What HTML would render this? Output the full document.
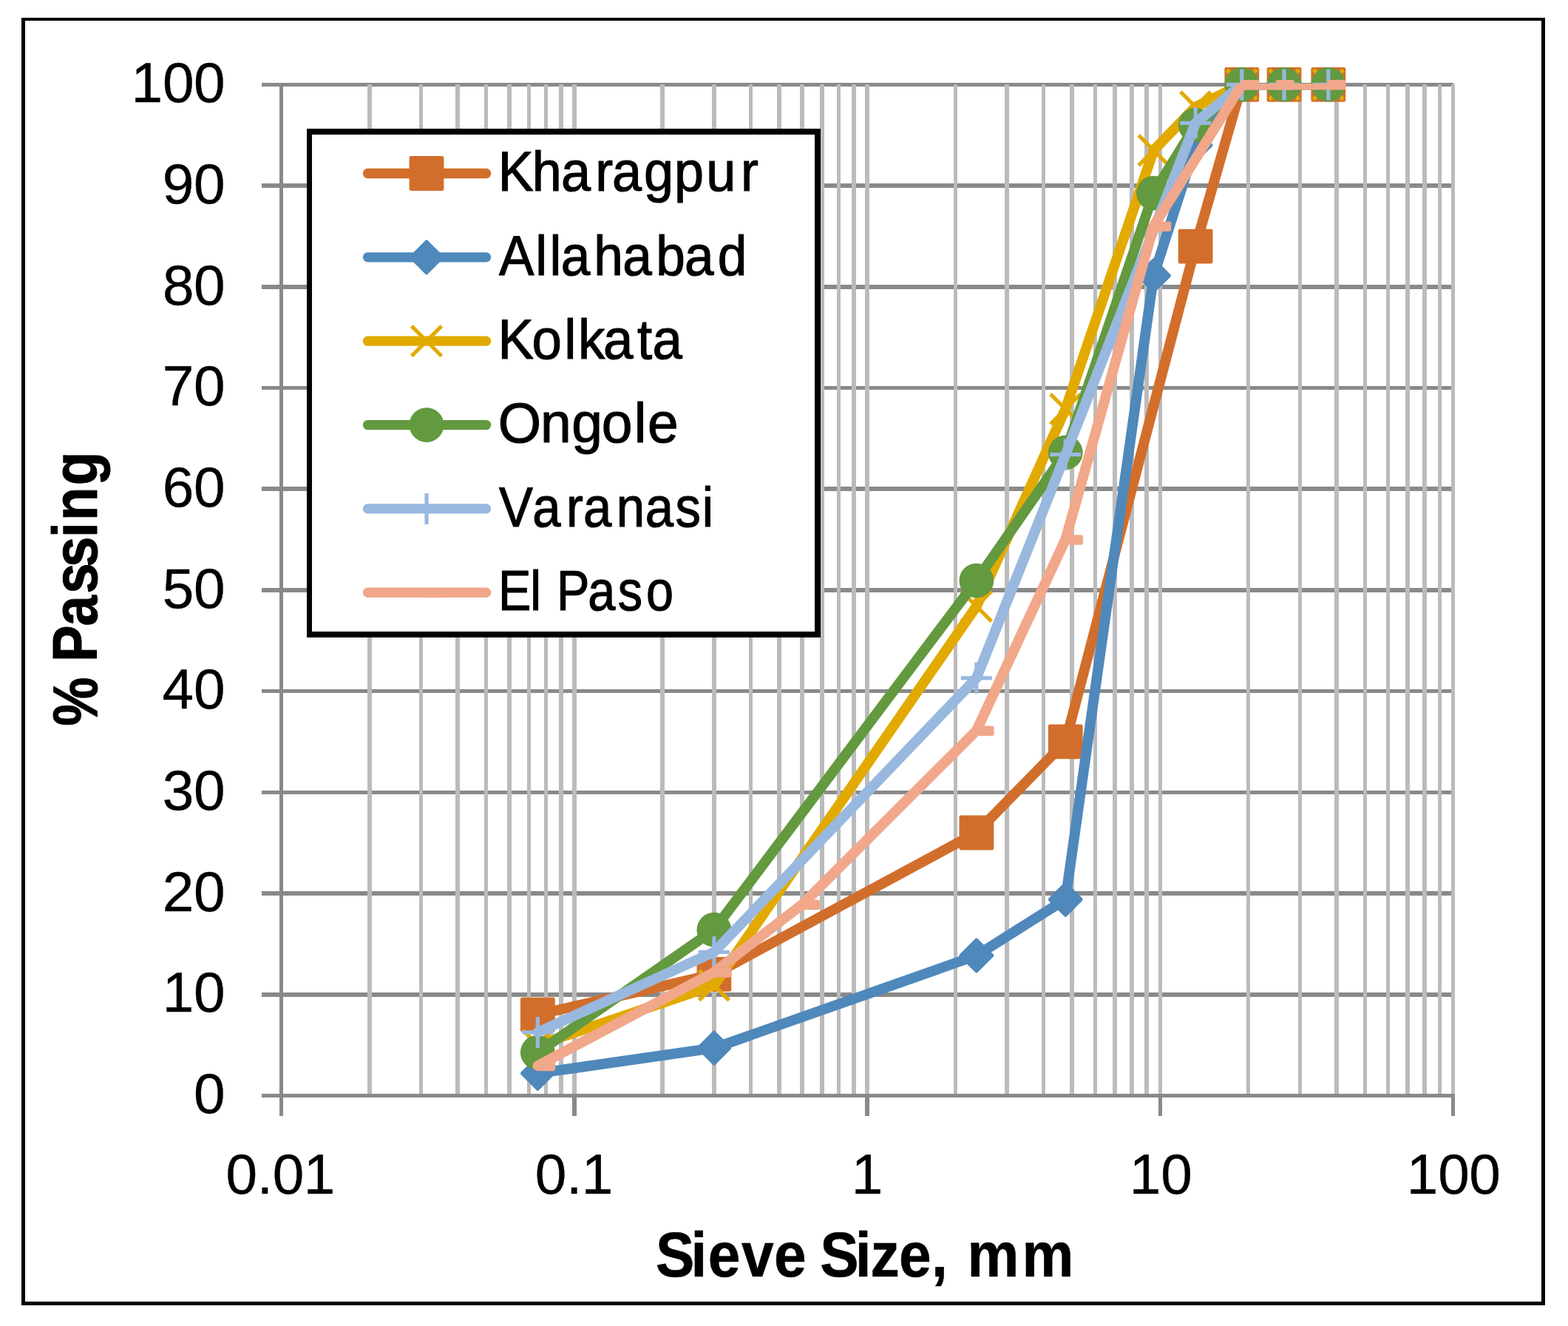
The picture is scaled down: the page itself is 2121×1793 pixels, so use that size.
<!DOCTYPE html>
<html lang="en"><head><meta charset="utf-8"><title>Sieve analysis - % Passing vs Sieve Size</title>
<style>
html,body{margin:0;padding:0;background:#fff;}
svg{display:block;}
text{font-family:"Liberation Sans",sans-serif;fill:#000;}
.t{font-size:76.5px;}
.b{font-size:84.5px;font-weight:bold;}
</style></head><body>
<svg width="2121" height="1793" viewBox="0 0 2121 1793" role="img" aria-label="Sieve analysis chart">
<rect x="0" y="0" width="2121" height="1793" fill="#fff"/>
<g fill="#000" shape-rendering="crispEdges">
<rect x="29" y="24" width="2061" height="4"/>
<rect x="29" y="1760" width="2061" height="5"/>
<rect x="29" y="24" width="5" height="1741"/>
<rect x="2085" y="24" width="5" height="1741"/>
</g>
<g fill="#898989" shape-rendering="crispEdges">
<rect x="354" y="1342" width="1612" height="6"/>
<rect x="354" y="1205" width="1612" height="6"/>
<rect x="354" y="1069" width="1612" height="5"/>
<rect x="354" y="932" width="1612" height="5"/>
<rect x="354" y="795" width="1612" height="6"/>
<rect x="354" y="658" width="1612" height="6"/>
<rect x="354" y="522" width="1612" height="5"/>
<rect x="354" y="385" width="1612" height="6"/>
<rect x="354" y="248" width="1612" height="6"/>
<rect x="354" y="112" width="1612" height="5"/>
</g>
<g fill="#BBBBBB" shape-rendering="crispEdges">
<rect x="497" y="114" width="6" height="1367"/>
<rect x="567" y="114" width="5" height="1367"/>
<rect x="616" y="114" width="6" height="1367"/>
<rect x="655" y="114" width="5" height="1367"/>
<rect x="686" y="114" width="6" height="1367"/>
<rect x="713" y="114" width="5" height="1367"/>
<rect x="736" y="114" width="5" height="1367"/>
<rect x="756" y="114" width="6" height="1367"/>
<rect x="774" y="114" width="6" height="1367"/>
<rect x="893" y="114" width="6" height="1367"/>
<rect x="963" y="114" width="6" height="1367"/>
<rect x="1013" y="114" width="5" height="1367"/>
<rect x="1051" y="114" width="6" height="1367"/>
<rect x="1082" y="114" width="6" height="1367"/>
<rect x="1109" y="114" width="6" height="1367"/>
<rect x="1132" y="114" width="5" height="1367"/>
<rect x="1152" y="114" width="6" height="1367"/>
<rect x="1170" y="114" width="6" height="1367"/>
<rect x="1290" y="114" width="5" height="1367"/>
<rect x="1359" y="114" width="6" height="1367"/>
<rect x="1409" y="114" width="5" height="1367"/>
<rect x="1447" y="114" width="6" height="1367"/>
<rect x="1479" y="114" width="5" height="1367"/>
<rect x="1505" y="114" width="6" height="1367"/>
<rect x="1528" y="114" width="6" height="1367"/>
<rect x="1548" y="114" width="6" height="1367"/>
<rect x="1567" y="114" width="5" height="1367"/>
<rect x="1686" y="114" width="5" height="1367"/>
<rect x="1756" y="114" width="5" height="1367"/>
<rect x="1805" y="114" width="6" height="1367"/>
<rect x="1844" y="114" width="5" height="1367"/>
<rect x="1875" y="114" width="5" height="1367"/>
<rect x="1901" y="114" width="6" height="1367"/>
<rect x="1924" y="114" width="6" height="1367"/>
<rect x="1945" y="114" width="5" height="1367"/>
<rect x="1963" y="114" width="5" height="1367"/>
</g>
<g fill="#898989" shape-rendering="crispEdges">
<rect x="354" y="1479" width="1614" height="5"/>
<rect x="378" y="112" width="5" height="1397"/>
<rect x="774" y="1479" width="6" height="30"/>
<rect x="1170" y="1479" width="6" height="30"/>
<rect x="1567" y="1479" width="5" height="30"/>
<rect x="1963" y="1479" width="5" height="30"/>
</g>
<text class="t" transform="translate(0 138.1) scale(1.000 1)" x="177.5 219.88 262.12" y="0" stroke="#000" stroke-width="0.4" stroke-linejoin="round">100</text>
<text class="t" transform="translate(0 274.8) scale(1.000 1)" x="219.7 262.12" y="0" stroke="#000" stroke-width="0.4" stroke-linejoin="round">90</text>
<text class="t" transform="translate(0 411.5) scale(1.000 1)" x="219.88 262.12" y="0" stroke="#000" stroke-width="0.4" stroke-linejoin="round">80</text>
<text class="t" transform="translate(0 548.2) scale(1.000 1)" x="219.84 262.12" y="0" stroke="#000" stroke-width="0.4" stroke-linejoin="round">70</text>
<text class="t" transform="translate(0 684.9) scale(1.000 1)" x="219.82 262.12" y="0" stroke="#000" stroke-width="0.4" stroke-linejoin="round">60</text>
<text class="t" transform="translate(0 821.6) scale(1.000 1)" x="219.82 262.12" y="0" stroke="#000" stroke-width="0.4" stroke-linejoin="round">50</text>
<text class="t" transform="translate(0 958.3) scale(1.000 1)" x="219.62 262.12" y="0" stroke="#000" stroke-width="0.4" stroke-linejoin="round">40</text>
<text class="t" transform="translate(0 1095) scale(1.000 1)" x="219.76 262.12" y="0" stroke="#000" stroke-width="0.4" stroke-linejoin="round">30</text>
<text class="t" transform="translate(0 1231.7) scale(1.000 1)" x="219.83 262.12" y="0" stroke="#000" stroke-width="0.4" stroke-linejoin="round">20</text>
<text class="t" transform="translate(0 1368.4) scale(1.000 1)" x="219.74 262.12" y="0" stroke="#000" stroke-width="0.4" stroke-linejoin="round">10</text>
<text class="t" transform="translate(0 1505.1) scale(1.000 1)" x="262.12" y="0" stroke="#000" stroke-width="0.4" stroke-linejoin="round">0</text>
<text class="t" transform="translate(0 1613.8) scale(1.000 1)" x="305.38 347.65 368.66 410.74" y="0" stroke="#000" stroke-width="0.4" stroke-linejoin="round">0.01</text>
<text class="t" transform="translate(0 1613.8) scale(1.000 1)" x="723.7 765.97 786.83" y="0" stroke="#000" stroke-width="0.4" stroke-linejoin="round">0.1</text>
<text class="t" transform="translate(0 1613.8) scale(1.000 1)" x="1151.69" y="0" stroke="#000" stroke-width="0.4" stroke-linejoin="round">1</text>
<text class="t" transform="translate(0 1613.8) scale(1.000 1)" x="1527.87 1570.26" y="0" stroke="#000" stroke-width="0.4" stroke-linejoin="round">10</text>
<text class="t" transform="translate(0 1613.8) scale(1.000 1)" x="1902.75 1945.14 1987.37" y="0" stroke="#000" stroke-width="0.4" stroke-linejoin="round">100</text>
<text class="b" transform="translate(0 1726) scale(0.930 1)" x="953.83 1004.91 1029.9 1078.57 1125.7 1172.7 1192.64 1243.73 1266.22 1307.53 1354.97 1378.46 1406.94 1486.51" y="0" stroke="#000" stroke-width="0.6" stroke-linejoin="round">Sieve Size, mm</text>
<text class="b" transform="translate(131 1000) rotate(-90) scale(0.880 1)" x="20.63 95.77 119.21 174.53 224.24 264.75 310.23 336.39 390.76" y="0" stroke="#000" stroke-width="1" stroke-linejoin="round">% Passing</text>
<defs><clipPath id="pc"><rect x="340" y="113" width="1700" height="1400"/></clipPath></defs>
<g>
<path clip-path="url(#pc)" d="M727.34 1372.04L965.91 1317.36L1320.87 1125.98L1441.24 1002.95L1617.13 333.12L1679.81 114.4L1737.06 114.4L1796.81 114.4" fill="none" stroke="#D26E2B" stroke-width="13.9" stroke-linejoin="round" stroke-linecap="round"/>
<rect x="706.34" y="1351.04" width="42" height="42" fill="#D26E2B" stroke="#D26E2B" stroke-width="4.8" stroke-linejoin="round"/>
<rect x="944.91" y="1296.36" width="42" height="42" fill="#D26E2B" stroke="#D26E2B" stroke-width="4.8" stroke-linejoin="round"/>
<rect x="1299.87" y="1104.98" width="42" height="42" fill="#D26E2B" stroke="#D26E2B" stroke-width="4.8" stroke-linejoin="round"/>
<rect x="1420.24" y="981.95" width="42" height="42" fill="#D26E2B" stroke="#D26E2B" stroke-width="4.8" stroke-linejoin="round"/>
<rect x="1596.13" y="312.12" width="42" height="42" fill="#D26E2B" stroke="#D26E2B" stroke-width="4.8" stroke-linejoin="round"/>
<rect x="1658.81" y="93.4" width="42" height="42" fill="#D26E2B" stroke="#D26E2B" stroke-width="4.8" stroke-linejoin="round"/>
<rect x="1716.06" y="93.4" width="42" height="42" fill="#D26E2B" stroke="#D26E2B" stroke-width="4.8" stroke-linejoin="round"/>
<rect x="1775.81" y="93.4" width="42" height="42" fill="#D26E2B" stroke="#D26E2B" stroke-width="4.8" stroke-linejoin="round"/>
</g>
<g>
<path clip-path="url(#pc)" d="M727.34 1451.33L965.91 1417.15L1320.87 1292.07L1441.24 1216.2L1560.52 372.76L1617.13 196.42L1679.81 114.4L1737.06 114.4L1796.81 114.4" fill="none" stroke="#4F88BB" stroke-width="13.9" stroke-linejoin="round" stroke-linecap="round"/>
<path d="M727.34 1430.33L748.34 1451.33L727.34 1472.33L706.34 1451.33Z" fill="#4F88BB" stroke="#4F88BB" stroke-width="4.8" stroke-linejoin="round"/>
<path d="M965.91 1396.15L986.91 1417.15L965.91 1438.15L944.91 1417.15Z" fill="#4F88BB" stroke="#4F88BB" stroke-width="4.8" stroke-linejoin="round"/>
<path d="M1320.87 1271.07L1341.87 1292.07L1320.87 1313.07L1299.87 1292.07Z" fill="#4F88BB" stroke="#4F88BB" stroke-width="4.8" stroke-linejoin="round"/>
<path d="M1441.24 1195.2L1462.24 1216.2L1441.24 1237.2L1420.24 1216.2Z" fill="#4F88BB" stroke="#4F88BB" stroke-width="4.8" stroke-linejoin="round"/>
<path d="M1560.52 351.76L1581.52 372.76L1560.52 393.76L1539.52 372.76Z" fill="#4F88BB" stroke="#4F88BB" stroke-width="4.8" stroke-linejoin="round"/>
<path d="M1617.13 175.42L1638.13 196.42L1617.13 217.42L1596.13 196.42Z" fill="#4F88BB" stroke="#4F88BB" stroke-width="4.8" stroke-linejoin="round"/>
<path d="M1679.81 93.4L1700.81 114.4L1679.81 135.4L1658.81 114.4Z" fill="#4F88BB" stroke="#4F88BB" stroke-width="4.8" stroke-linejoin="round"/>
<path d="M1737.06 93.4L1758.06 114.4L1737.06 135.4L1716.06 114.4Z" fill="#4F88BB" stroke="#4F88BB" stroke-width="4.8" stroke-linejoin="round"/>
<path d="M1796.81 93.4L1817.81 114.4L1796.81 135.4L1775.81 114.4Z" fill="#4F88BB" stroke="#4F88BB" stroke-width="4.8" stroke-linejoin="round"/>
</g>
<g>
<path clip-path="url(#pc)" d="M727.34 1413.05L965.91 1332.4L1320.87 819.77L1441.24 553.21L1560.52 203.26L1617.13 144.47L1679.81 114.4L1737.06 114.4L1796.81 114.4" fill="none" stroke="#E2AA00" stroke-width="13.9" stroke-linejoin="round" stroke-linecap="round"/>
<path d="M707.04 1392.75L747.64 1433.35M707.04 1433.35L747.64 1392.75" stroke="#E2AA00" stroke-width="5.2" fill="none"/>
<path d="M945.61 1312.1L986.21 1352.7M945.61 1352.7L986.21 1312.1" stroke="#E2AA00" stroke-width="5.2" fill="none"/>
<path d="M1300.57 799.47L1341.17 840.07M1300.57 840.07L1341.17 799.47" stroke="#E2AA00" stroke-width="5.2" fill="none"/>
<path d="M1420.94 532.91L1461.54 573.51M1420.94 573.51L1461.54 532.91" stroke="#E2AA00" stroke-width="5.2" fill="none"/>
<path d="M1540.22 182.96L1580.82 223.56M1540.22 223.56L1580.82 182.96" stroke="#E2AA00" stroke-width="5.2" fill="none"/>
<path d="M1596.83 124.17L1637.43 164.77M1596.83 164.77L1637.43 124.17" stroke="#E2AA00" stroke-width="5.2" fill="none"/>
<path d="M1659.51 94.1L1700.11 134.7M1659.51 134.7L1700.11 94.1" stroke="#E2AA00" stroke-width="5.2" fill="none"/>
<path d="M1716.76 94.1L1757.36 134.7M1716.76 134.7L1757.36 94.1" stroke="#E2AA00" stroke-width="5.2" fill="none"/>
<path d="M1776.51 94.1L1817.11 134.7M1776.51 134.7L1817.11 94.1" stroke="#E2AA00" stroke-width="5.2" fill="none"/>
</g>
<g>
<path clip-path="url(#pc)" d="M727.34 1423.17L965.91 1257.21L1320.87 785.05L1441.24 611.99L1560.52 261.08L1617.13 169.08L1679.81 114.4L1737.06 114.4L1796.81 114.4" fill="none" stroke="#63993F" stroke-width="13.9" stroke-linejoin="round" stroke-linecap="round"/>
<circle cx="727.34" cy="1423.17" r="23.4" fill="#63993F"/>
<circle cx="965.91" cy="1257.21" r="23.4" fill="#63993F"/>
<circle cx="1320.87" cy="785.05" r="23.4" fill="#63993F"/>
<circle cx="1441.24" cy="611.99" r="23.4" fill="#63993F"/>
<circle cx="1560.52" cy="261.08" r="23.4" fill="#63993F"/>
<circle cx="1617.13" cy="169.08" r="23.4" fill="#63993F"/>
<circle cx="1679.81" cy="114.4" r="23.4" fill="#63993F"/>
<circle cx="1737.06" cy="114.4" r="23.4" fill="#63993F"/>
<circle cx="1796.81" cy="114.4" r="23.4" fill="#63993F"/>
</g>
<g>
<path clip-path="url(#pc)" d="M727.34 1395.96L965.91 1287.29L1320.87 916.83L1441.24 614.72L1617.13 166.35L1679.81 114.4L1737.06 114.4L1796.81 114.4" fill="none" stroke="#98B8DF" stroke-width="13.9" stroke-linejoin="round" stroke-linecap="round"/>
<path d="M727.34 1374.96V1416.96M706.34 1395.96H748.34" stroke="#98B8DF" stroke-width="5.2" fill="none"/>
<path d="M965.91 1266.29V1308.29M944.91 1287.29H986.91" stroke="#98B8DF" stroke-width="5.2" fill="none"/>
<path d="M1320.87 895.83V937.83M1299.87 916.83H1341.87" stroke="#98B8DF" stroke-width="5.2" fill="none"/>
<path d="M1441.24 593.72V635.72M1420.24 614.72H1462.24" stroke="#98B8DF" stroke-width="5.2" fill="none"/>
<path d="M1617.13 145.35V187.35M1596.13 166.35H1638.13" stroke="#98B8DF" stroke-width="5.2" fill="none"/>
<path d="M1679.81 93.4V135.4M1658.81 114.4H1700.81" stroke="#98B8DF" stroke-width="5.2" fill="none"/>
<path d="M1737.06 93.4V135.4M1716.06 114.4H1758.06" stroke="#98B8DF" stroke-width="5.2" fill="none"/>
<path d="M1796.81 93.4V135.4M1775.81 114.4H1817.81" stroke="#98B8DF" stroke-width="5.2" fill="none"/>
</g>
<g>
<path clip-path="url(#pc)" d="M727.34 1441.07L965.91 1314.63L1085.19 1223.04L1320.87 987.91L1441.24 729.55L1560.52 305.78L1679.81 114.4L1727.03 114.4L1796.81 114.4" fill="none" stroke="#F1A78A" stroke-width="13.9" stroke-linejoin="round" stroke-linecap="round"/>
<rect x="728.14" y="1437.17" width="20.5" height="8.6" fill="#F1A78A" stroke="#F1A78A" stroke-width="4.8" stroke-linejoin="round"/>
<rect x="966.71" y="1310.73" width="20.5" height="8.6" fill="#F1A78A" stroke="#F1A78A" stroke-width="4.8" stroke-linejoin="round"/>
<rect x="1085.99" y="1219.14" width="20.5" height="8.6" fill="#F1A78A" stroke="#F1A78A" stroke-width="4.8" stroke-linejoin="round"/>
<rect x="1321.67" y="984.01" width="20.5" height="8.6" fill="#F1A78A" stroke="#F1A78A" stroke-width="4.8" stroke-linejoin="round"/>
<rect x="1442.04" y="725.65" width="20.5" height="8.6" fill="#F1A78A" stroke="#F1A78A" stroke-width="4.8" stroke-linejoin="round"/>
<rect x="1561.32" y="301.88" width="20.5" height="8.6" fill="#F1A78A" stroke="#F1A78A" stroke-width="4.8" stroke-linejoin="round"/>
<rect x="1680.61" y="110.5" width="20.5" height="8.6" fill="#F1A78A" stroke="#F1A78A" stroke-width="4.8" stroke-linejoin="round"/>
<rect x="1727.83" y="110.5" width="20.5" height="8.6" fill="#F1A78A" stroke="#F1A78A" stroke-width="4.8" stroke-linejoin="round"/>
<rect x="1797.61" y="110.5" width="20.5" height="8.6" fill="#F1A78A" stroke="#F1A78A" stroke-width="4.8" stroke-linejoin="round"/>
</g>
<g shape-rendering="crispEdges">
<rect x="415" y="174" width="695" height="688" fill="#000"/>
<rect x="422" y="182" width="680" height="672" fill="#fff"/>
</g>
<g>
<path d="M497.5 234.5H657.6" stroke="#D26E2B" stroke-width="13.3" stroke-linecap="round" fill="none"/>
<rect x="556" y="213.5" width="42" height="42" fill="#D26E2B" stroke="#D26E2B" stroke-width="4.8" stroke-linejoin="round"/>
</g>
<text class="t" transform="translate(0 258.2) scale(0.940 1)" x="716.78 765.78 807.49 856.53 880.86 926.7 970.32 1016.22 1066.09" y="0" stroke="#000" stroke-width="1.2" stroke-linejoin="round">Kharagpur</text>
<g>
<path d="M497.5 347.85H657.6" stroke="#4F88BB" stroke-width="13.3" stroke-linecap="round" fill="none"/>
<path d="M577 326.85L598 347.85L577 368.85L556 347.85Z" fill="#4F88BB" stroke="#4F88BB" stroke-width="4.8" stroke-linejoin="round"/>
</g>
<text class="t" transform="translate(0 371.6) scale(0.930 1)" x="725.93 778.88 799.45 815.76 863.59 905.76 954.01 995.76 1043.89" y="0" stroke="#000" stroke-width="1.2" stroke-linejoin="round">Allahabad</text>
<g>
<path d="M497.5 461.2H657.6" stroke="#E2AA00" stroke-width="13.3" stroke-linecap="round" fill="none"/>
<path d="M556.7 440.9L597.3 481.5M556.7 481.5L597.3 440.9" stroke="#E2AA00" stroke-width="5.2" fill="none"/>
</g>
<text class="t" transform="translate(0 485) scale(0.950 1)" x="709.05 757.42 803.38 823.17 858.93 907.47 928.95" y="0" stroke="#000" stroke-width="1.2" stroke-linejoin="round">Kolkata</text>
<g>
<path d="M497.5 574.55H657.6" stroke="#63993F" stroke-width="13.3" stroke-linecap="round" fill="none"/>
<circle cx="577" cy="574.55" r="23.4" fill="#63993F"/>
</g>
<text class="t" transform="translate(0 598.4) scale(0.980 1)" x="687.55 745.85 789.06 830.41 875.35 893.8" y="0" stroke="#000" stroke-width="1.2" stroke-linejoin="round">Ongole</text>
<g>
<path d="M497.5 687.9H657.6" stroke="#98B8DF" stroke-width="13.3" stroke-linecap="round" fill="none"/>
<path d="M577 666.9V708.9M556 687.9H598" stroke="#98B8DF" stroke-width="5.2" fill="none"/>
</g>
<text class="t" transform="translate(0 711.8) scale(0.900 1)" x="749.9 800.18 851.04 876.81 926.26 969.81 1015.05 1055.22" y="0" stroke="#000" stroke-width="1.2" stroke-linejoin="round">Varanasi</text>
<g>
<path d="M497.5 801.25H657.6" stroke="#F1A78A" stroke-width="13.3" stroke-linecap="round" fill="none"/>
<rect x="577.8" y="797.35" width="20.5" height="8.6" fill="#F1A78A" stroke="#F1A78A" stroke-width="4.8" stroke-linejoin="round"/>
</g>
<text class="t" transform="translate(0 825.2) scale(0.870 1)" x="774.69 824.53 841.53 865.66 914.1 960.77 1004.65" y="0" stroke="#000" stroke-width="1.2" stroke-linejoin="round">El Paso</text>
</svg>
</body></html>
